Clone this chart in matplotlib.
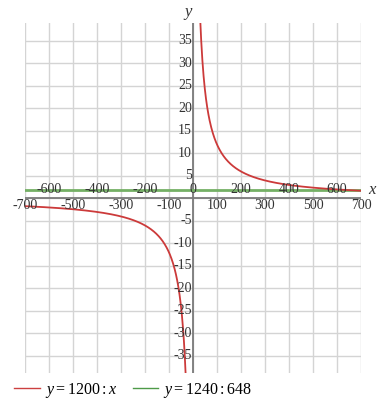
import matplotlib
matplotlib.use("Agg")
import matplotlib.pyplot as plt
import numpy as np

plt.rcParams["font.family"] = "Liberation Serif"
plt.rcParams["mathtext.fontset"] = "custom"
plt.rcParams["mathtext.rm"] = "Liberation Serif"
plt.rcParams["mathtext.it"] = "Liberation Serif:italic"

# functions shown in the chart
numerator = 1200          # y = 1200 : x
const_num, const_den = 1240, 648   # y = 1240 : 648
x_min, x_max = -700, 700
y_min, y_max = -38.8, 39.0
x_upper_ticks = [-600, -400, -200, 0, 200, 400, 600]
x_lower_ticks = [-700, -500, -300, -100, 100, 300, 500, 700]
y_ticks = [-35, -30, -25, -20, -15, -10, -5, 5, 10, 15, 20, 25, 30, 35]
labels = ["$y = 1200 : x$", "$y = 1240 : 648$"]

red = "#cc3a3a"
green = "#74b065"
grid_c = "#d4d4d4"
axis_c = "#7a7a7a"
txt_c = "#333333"

fig = plt.figure(figsize=(3.84, 4.08), dpi=100)
ax = fig.add_axes([25 / 384, 1 - 373 / 408, 336 / 384, 350 / 408])
ax.set_xlim(x_min, x_max)
ax.set_ylim(y_min, y_max)
for s in ax.spines.values():
    s.set_visible(False)
ax.set_xticks([])
ax.set_yticks([])

# grid
for gx in range(-700, 701, 100):
    ax.axvline(gx, color=grid_c, lw=1, zorder=0)
for gy in range(-35, 36, 5):
    ax.axhline(gy, color=grid_c, lw=1, zorder=0)

# axes
ax.axhline(0, color=axis_c, lw=1.3, zorder=1)
ax.axvline(0, color=axis_c, lw=1.3, zorder=1)

# curves
xp = np.linspace(numerator / y_max, x_max, 400)
xn = np.linspace(x_min, numerator / y_min, 400)
ax.plot(xp, numerator / xp, color=red, lw=1.3, zorder=3, label=labels[0])
ax.plot(xn, numerator / xn, color=red, lw=1.3, zorder=3)
ax.axhline(const_num / const_den, color=green, lw=2, zorder=2, label=labels[1])

# tick labels
fs = 10
for t in x_upper_ticks:
    ax.text(t, 1.9, str(t), ha="center", va="center", fontsize=fs, color=txt_c, zorder=4)
for t in x_lower_ticks:
    ax.text(t, -1.6, str(t), ha="center", va="center", fontsize=fs, color=txt_c,
            zorder=4, clip_on=False)
for t in y_ticks:
    ax.text(-4, t, str(t), ha="right", va="center", fontsize=fs, color=txt_c, zorder=4)

ax.text(-20, 41.5, "y", ha="center", va="center", fontsize=12, style="italic",
        color=txt_c, clip_on=False)
ax.text(745, 1.8, "x", ha="center", va="center", fontsize=12, style="italic",
        color=txt_c, clip_on=False)

leg = fig.legend(loc="lower left", bbox_to_anchor=(0.0, -0.015), ncol=2, frameon=False,
                 fontsize=11.5, handlelength=1.6, handletextpad=0.3, columnspacing=1.0)
for h, c in zip(leg.get_lines(), ["#cc4040", "#4e9a48"]):
    h.set_linewidth(1.0)
    h.set_color(c)

fig.savefig("out.png", dpi=100)
